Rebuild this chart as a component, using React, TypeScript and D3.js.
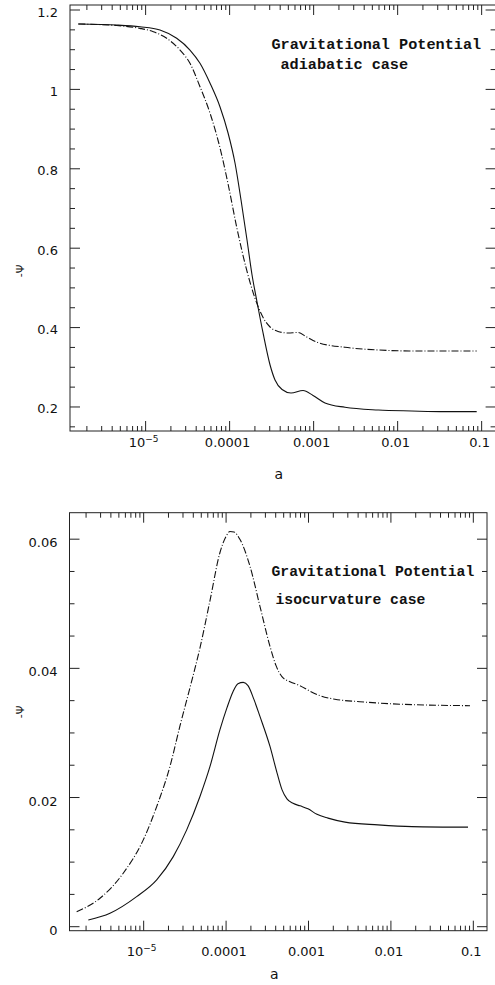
import React from 'react';
import * as d3 from 'd3';

const W = 495;
const H = 985;

// ---------- data ----------
const topSolidA = [1.581e-6, 4.53e-6, 8.57e-6, 1.483e-5, 2.344e-5, 3.373e-5, 4.44e-5, 5.85e-5, 7.69e-5, 9.58e-5, 1.159e-4, 1.367e-4, 1.611e-4, 1.849e-4, 2.12e-4, 2.5e-4, 3.03e-4, 3.47e-4, 4.21e-4, 5.38e-4, 7.48e-4, 9.84e-4, 1.366e-3, 2.36e-3, 5.89e-3, 1.47e-2, 3.66e-2, 8.73e-2];
const topSolidPsi = [1.1647, 1.1622, 1.1579, 1.1496, 1.1287, 1.0992, 1.0657, 1.0154, 0.9557, 0.8902, 0.8146, 0.7214, 0.6207, 0.5325, 0.4645, 0.3864, 0.3058, 0.268, 0.2441, 0.2353, 0.2416, 0.229, 0.2101, 0.1992, 0.1924, 0.1899, 0.1882, 0.1882];

const topDashA = [1.581e-6, 4.53e-6, 8.57e-6, 1.236e-5, 1.782e-5, 2.566e-5, 3.373e-5, 4.44e-5, 5.85e-5, 7.69e-5, 9.64e-5, 1.213e-4, 1.595e-4, 2.0e-4, 2.52e-4, 3.03e-4, 3.77e-4, 4.95e-4, 6.52e-4, 8.27e-4, 1.138e-3, 2.36e-3, 5.89e-3, 1.47e-2, 8.73e-2];
const topDashPsi = [1.1647, 1.1609, 1.1538, 1.1453, 1.1287, 1.0992, 1.0657, 1.0068, 0.9398, 0.8524, 0.7592, 0.6534, 0.5451, 0.4746, 0.4242, 0.4015, 0.3902, 0.3864, 0.3877, 0.3763, 0.362, 0.3504, 0.3436, 0.3411, 0.3411];

const botSolidA = [2.13e-6, 3.9e-6, 8.22e-6, 1.439e-5, 2.286e-5, 3.327e-5, 4.82e-5, 6.38e-5, 8.43e-5, 1.026e-4, 1.213e-4, 1.393e-4, 1.618e-4, 1.845e-4, 2.183e-4, 2.576e-4, 3.41e-4, 4.15e-4, 4.78e-4, 5.48e-4, 6.49e-4, 7.89e-4, 9.86e-4, 1.268e-3, 1.726e-3, 2.773e-3, 6.97e-3, 1.803e-2, 8.63e-2];
const botSolidPsi = [0.00104, 0.00208, 0.00465, 0.00724, 0.01085, 0.01499, 0.02016, 0.02481, 0.0305, 0.03391, 0.03639, 0.03763, 0.03783, 0.03732, 0.03515, 0.03256, 0.02791, 0.02383, 0.02119, 0.0198, 0.0191, 0.01871, 0.01825, 0.0174, 0.01681, 0.01619, 0.01577, 0.0155, 0.01541];

const botDashA = [1.538e-6, 2.95e-6, 5.65e-6, 9.89e-6, 1.439e-5, 2.084e-5, 2.761e-5, 3.648e-5, 4.83e-5, 6.38e-5, 8.43e-5, 9.98e-5, 1.114e-4, 1.247e-4, 1.476e-4, 1.95e-4, 2.576e-4, 3.41e-4, 4.04e-4, 4.76e-4, 5.96e-4, 7.87e-4, 1.04e-3, 1.38e-3, 2.09e-3, 4.2e-3, 1.285e-2, 9.12e-2];
const botDashPsi = [0.00233, 0.0044, 0.00828, 0.01344, 0.0186, 0.02481, 0.03112, 0.03701, 0.04321, 0.0505, 0.05794, 0.06042, 0.06119, 0.06112, 0.05995, 0.05581, 0.04961, 0.04341, 0.04042, 0.03871, 0.03794, 0.03732, 0.03647, 0.03577, 0.03522, 0.03484, 0.03445, 0.03422];

const xTickValues = [1e-5, 1e-4, 1e-3, 1e-2, 1e-1];
const xTickLabels = ['10^-5', '0.0001', '0.001', '0.01', '0.1'];
const topYTickValues = [0.2, 0.4, 0.6, 0.8, 1, 1.2];
const topYTickLabels = ['0.2', '0.4', '0.6', '0.8', '1', '1.2'];
const botYTickValues = [0, 0.02, 0.04, 0.06];
const botYTickLabels = ['0', '0.02', '0.04', '0.06'];
const topTitle = ['Gravitational Potential', 'adiabatic case'];
const botTitle = ['Gravitational Potential', 'isocurvature case'];
const xAxisLabel = 'a';
const yAxisLabel = '-\u03A8';

const zip = (a: number[], b: number[]) => a.map((v, i) => [v, b[i]] as [number, number]);

type Cfg = {
  l: number; t: number; r: number; b: number;
  xDomain: [number, number];
  yDomain: [number, number];
  yMinorCount: number;
  yMajor: number;
  yTickValues: number[];
  yTickLabels: string[];
  yLabelX: number;
  yLabelDy: number;
  xLabelY: number;
  solid: [number, number][];
  dash: [number, number][];
  title: string[];
  titlePos: { x1: number; y1: number; x2: number; y2: number; fs: number };
  aPos: { x: number; y: number };
  psiPos: { x: number; y: number };
};

function Panel({ c }: { c: Cfg }) {
  const x = d3.scaleLog().domain(c.xDomain).range([c.l, c.r]);
  const y = d3.scaleLinear().domain(c.yDomain).range([c.b, c.t]);
  const xt = x.ticks();
  const yt = y.ticks(c.yMinorCount);
  const isMajX = (v: number) => Math.abs(Math.log10(v) - Math.round(Math.log10(v))) < 1e-6;
  const isMajY = (v: number) => Math.abs(v / c.yMajor - Math.round(v / c.yMajor)) < 1e-6;
  const line = d3.line<[number, number]>().x(d => x(d[0])).y(d => y(d[1])).curve(d3.curveMonotoneX);
  const numFont = "'DejaVu Sans', sans-serif";
  const monoFont = "'Liberation Mono', 'DejaVu Sans Mono', monospace";
  return (
    <g>
      <rect x={c.l} y={c.t} width={c.r - c.l} height={c.b - c.t} fill="none" stroke="#222" strokeWidth={1} />
      {xt.map((v, i) => {
        const px = x(v);
        const len = isMajX(v) ? 10 : 5;
        return (
          <g key={'xt' + i}>
            <line x1={px} x2={px} y1={c.b} y2={c.b - len} stroke="#222" strokeWidth={1} />
            <line x1={px} x2={px} y1={c.t} y2={c.t + len} stroke="#222" strokeWidth={1} />
          </g>
        );
      })}
      {yt.map((v, i) => {
        const py = y(v);
        const len = isMajY(v) ? 10 : 5;
        return (
          <g key={'yt' + i}>
            <line x1={c.l} x2={c.l + len} y1={py} y2={py} stroke="#222" strokeWidth={1} />
            <line x1={c.r} x2={c.r - len} y1={py} y2={py} stroke="#222" strokeWidth={1} />
          </g>
        );
      })}
      {xTickValues.map((v, i) => {
        const lab = xTickLabels[i];
        const px = x(v) - 2;
        if (lab.startsWith('10^')) {
          return (
            <text key={'xl' + i} x={px} y={c.xLabelY} textAnchor="middle" fontFamily={numFont} fontSize={13} fill="#111">
              <tspan>10</tspan>
              <tspan dy={-5} fontSize={9}>{'\u2212' + lab.slice(4)}</tspan>
            </text>
          );
        }
        return (
          <text key={'xl' + i} x={px} y={c.xLabelY} textAnchor="middle" fontFamily={numFont} fontSize={13} fill="#111">{lab}</text>
        );
      })}
      {c.yTickValues.map((v, i) => (
        <text key={'yl' + i} x={c.yLabelX} y={y(v) + c.yLabelDy} textAnchor="end" fontFamily={numFont} fontSize={13} fill="#111">{c.yTickLabels[i]}</text>
      ))}
      <path d={line(c.solid) || ''} fill="none" stroke="#111" strokeWidth={1.1} />
      <path d={line(c.dash) || ''} fill="none" stroke="#111" strokeWidth={1.1} strokeDasharray="7 2 1 2" />
      <text x={c.titlePos.x1} y={c.titlePos.y1} fontFamily={monoFont} fontWeight="bold" fontSize={c.titlePos.fs} fill="#111">{c.title[0]}</text>
      <text x={c.titlePos.x2} y={c.titlePos.y2} fontFamily={monoFont} fontWeight="bold" fontSize={c.titlePos.fs} fill="#111">{c.title[1]}</text>
      <text x={c.aPos.x} y={c.aPos.y} textAnchor="middle" fontFamily={numFont} fontSize={14} fill="#111">{xAxisLabel}</text>
      <text transform={`translate(${c.psiPos.x},${c.psiPos.y}) rotate(-90)`} textAnchor="middle" fontFamily={numFont} fontSize={11} fill="#111">{yAxisLabel}</text>
    </g>
  );
}

export default function App() {
  const top: Cfg = {
    l: 70, t: 5, r: 495.6, b: 431,
    xDomain: [Math.pow(10, -5.9), Math.pow(10, -0.834)],
    yDomain: [0.1395, 1.2126],
    yMinorCount: 20, yMajor: 0.2,
    yTickValues: topYTickValues, yTickLabels: topYTickLabels,
    yLabelX: 58, yLabelDy: 6.5, xLabelY: 446.7,
    solid: zip(topSolidA, topSolidPsi),
    dash: zip(topDashA, topDashPsi),
    title: topTitle,
    titlePos: { x1: 271.5, y1: 49.3, x2: 280.5, y2: 69, fs: 15.2 },
    aPos: { x: 278.7, y: 479.3 },
    psiPos: { x: 24, y: 271 },
  };
  const bot: Cfg = {
    l: 69.5, t: 512.7, r: 487, b: 930.7,
    xDomain: [Math.pow(10, -5.9), Math.pow(10, -0.834)],
    yDomain: [-0.00062, 0.0641],
    yMinorCount: 13, yMajor: 0.02,
    yTickValues: botYTickValues, yTickLabels: botYTickLabels,
    yLabelX: 57.5, yLabelDy: 8, xLabelY: 955.7,
    solid: zip(botSolidA, botSolidPsi),
    dash: zip(botDashA, botDashPsi),
    title: botTitle,
    titlePos: { x1: 271.5, y1: 576, x2: 275.5, y2: 604.3, fs: 14.7 },
    aPos: { x: 274.2, y: 979.3 },
    psiPos: { x: 24, y: 712 },
  };
  return (
    <svg width={W} height={H} style={{ position: 'absolute', left: 0, top: 0, background: '#fff' }}>
      <rect x={0} y={0} width={W} height={H} fill="#fff" />
      <Panel c={top} />
      <Panel c={bot} />
    </svg>
  );
}
